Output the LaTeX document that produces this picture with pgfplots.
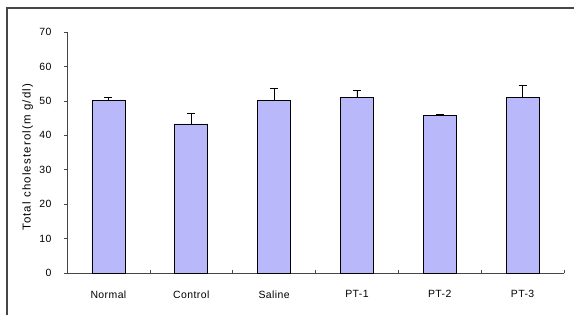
\documentclass[border=0pt]{standalone}
\usepackage{pgfplots}
\pgfplotsset{compat=1.18}
\usepackage{fontspec}
\setmainfont{Liberation Sans}
\newfontfamily\labelfont[LetterSpace=10]{Liberation Sans}
\newfontfamily\tickfont[LetterSpace=4]{Liberation Sans}
\definecolor{barfill}{RGB}{184,184,250}
\definecolor{axgray}{RGB}{70,70,70}
\begin{document}
\begin{tikzpicture}[x=1bp,y=1bp]
\useasboundingbox (0,0) rectangle (574,315);
\draw[axgray, line width=1.2bp] (7,0) -- (7,307) -- (574,307);
\begin{axis}[
  at={(67bp,42bp)}, anchor=south west,
  scale only axis, width=497bp, height=241bp,
  xmin=-0.5, xmax=5.5, ymin=0, ymax=70,
  axis x line*=bottom, axis y line*=left,
  axis line style={axgray, line width=0.8bp, -},
  xtick={0,1,2,3,4,5},
  xticklabels={Normal,Control,Saline,PT-1,PT-2,PT-3},
  major x tick style={draw=none},
  minor xtick={-0.5,0.5,1.5,2.5,3.5,4.5,5.5},
  minor tick length=3bp,
  minor x tick style={axgray, line width=0.6bp},
  xtick align=inside,
  ytick={0,10,...,70},
  ytick align=outside,
  major tick length=3bp,
  y tick style={axgray, line width=0.6bp},
  tick label style={font=\tickfont\fontsize{10.5}{12}\selectfont},
  /pgf/number format/assume math mode=true,
  xticklabel style={yshift=-14bp},
  yticklabel style={xshift=-9bp},
  ylabel={Total cholesterol(m g/dl)},
  ylabel style={font=\labelfont\fontsize{11.5}{14}\selectfont, at={(axis description cs:-0.079,0.48)}, anchor=center},
  every axis plot/.append style={ybar, bar width=33bp, bar shift=0pt},
]
\addplot[fill=barfill, draw=black, line width=0.8bp,
  error bars/.cd, y dir=plus, y explicit,
  error bar style={black, line width=0.8bp},
  error mark options={rotate=90, mark size=4bp, line width=0.8bp}]
coordinates {
  (0,50.0) +- (0,1.0)
  (1,43.3) +- (0,3.2)
  (2,50.0) +- (0,3.7)
  (3,51.0) +- (0,2.0)
  (4,45.8) +- (0,0.4)
  (5,51.0) +- (0,3.5)
};
\end{axis}
\end{tikzpicture}
\end{document}
